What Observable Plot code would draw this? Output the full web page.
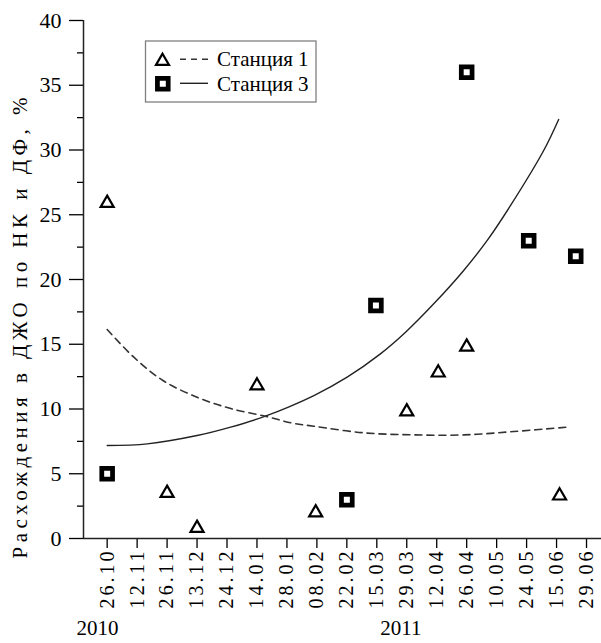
<!DOCTYPE html>
<html>
<head>
<meta charset="utf-8">
<script src="https://cdn.jsdelivr.net/npm/d3@7"></script>
<script src="https://cdn.jsdelivr.net/npm/@observablehq/plot@0.6"></script>
<style>
  html, body { margin: 0; padding: 0; background: white; }
</style>
</head>
<body>
<script>
// ---- Data ----
const xLabels = ["26.10","12.11","26.11","13.12","24.12","14.01","28.01","08.02","22.02","15.03","29.03","12.04","26.04","10.05","24.05","15.06","29.06"];
const years = ["2010", "2011"];
const yearPos = [-0.32, 9.8];
const yMajor = [0, 5, 10, 15, 20, 25, 30, 35, 40];
const yMinor = [2.5, 7.5, 12.5, 17.5, 22.5, 27.5, 32.5, 37.5];

// Станция 1 (triangles)
const st1X = [0, 2, 3, 5, 6.96, 10, 11.05, 12, 15.1];
const st1Y = [25.9, 3.5, 0.8, 11.8, 2.0, 9.8, 12.8, 14.8, 3.3];
// Станция 3 (squares)
const st3X = [0, 8, 8.97, 12, 14.07, 15.64];
const st3Y = [5.0, 3.0, 18.0, 36.0, 23.0, 21.8];

// Trend line Станция 1 (dashed)
const tr1X = [0, 0.89, 1.86, 3.0, 4.1, 5.3, 6.2, 6.9, 8.57, 10.24, 11.9, 13.57, 15.37];
const tr1Y = [16.14, 14.0, 12.2, 10.91, 10.05, 9.43, 8.9, 8.67, 8.16, 8.0, 8.0, 8.26, 8.6];
// Trend line Станция 3 (solid)
const tr3X = [0, 1.34, 3.0, 4.12, 5.28, 6.9, 8.01, 9.12, 9.96, 10.9, 11.9, 12.68, 13.46, 14.57, 15.07];
const tr3Y = [7.18, 7.31, 7.95, 8.6, 9.45, 11.04, 12.46, 14.26, 15.93, 18.12, 20.7, 23.0, 25.7, 29.96, 32.36];

const yTitle = "Расхождения в ДЖО по НК и ДФ, %";
const legendLabels = ["Станция 1", "Станция 3"];

// ---- Build tables ----
const st1 = st1X.map((x, i) => ({x, y: st1Y[i]}));
const st3 = st3X.map((x, i) => ({x, y: st3Y[i]}));
const tr1 = tr1X.map((x, i) => ({x, y: tr1Y[i]}));
const tr3 = tr3X.map((x, i) => ({x, y: tr3Y[i]}));
const yearData = years.map((t, i) => ({t, x: yearPos[i]}));

const xDomain = [-0.79, 16.5];
const triR = 4.83, sqR = 6.07;
const FONT = "'Liberation Serif', 'Times New Roman', serif";

const svg = Plot.plot({
  width: 601,
  height: 643,
  marginLeft: 83,
  marginRight: 0,
  marginTop: 20,
  marginBottom: 105,
  style: {fontFamily: FONT, fontSize: "20px", background: "white", color: "black"},
  x: {domain: xDomain, axis: null},
  y: {domain: [0, 40], axis: null},
  marks: [
    Plot.axisY({ticks: yMajor, tickSize: 14, tickPadding: 8, fontSize: 22, anchor: "left", strokeWidth: 1.3, label: null}),
    Plot.axisY({ticks: yMinor, tickSize: 6, tickFormat: () => "", anchor: "left", strokeWidth: 1.3, label: null}),
    Plot.axisX({ticks: d3.range(xLabels.length), tickFormat: i => xLabels[i], tickRotate: -90,
                tickSize: 10, tickPadding: 3, fontSize: 20, anchor: "bottom", strokeWidth: 1.3, label: null}),
    Plot.ruleY([0], {stroke: "#222", strokeWidth: 1.5}),
    Plot.ruleX([xDomain[0]], {y1: 0, y2: 40, stroke: "#222", strokeWidth: 1.5}),
    Plot.text(yearData, {x: "x", text: "t", frameAnchor: "bottom", dy: 96, fontSize: 21}),
    Plot.text([yTitle], {frameAnchor: "left", dx: -63, dy: 279, rotate: -90, fontSize: 21, textAnchor: "start"}),
    Plot.line(tr3, {x: "x", y: "y", curve: "catmull-rom", stroke: "#222", strokeWidth: 1.4}),
    Plot.line(tr1, {x: "x", y: "y", curve: "catmull-rom", stroke: "#333", strokeWidth: 1.6, strokeDasharray: "7,5"}),
    Plot.dot(st1, {x: "x", y: "y", symbol: "triangle", r: triR, stroke: "black", strokeWidth: 2.2, fill: "white"}),
    Plot.dot(st3, {x: "x", y: "y", symbol: "square", r: sqR, stroke: "black", strokeWidth: 4.75, fill: "white"})
  ]
});

document.body.appendChild(svg);

// stretch rotated texts to match reference lengths
const s = d3.select(svg);
s.selectAll('g[aria-label="x-axis tick label"] text').attr("textLength", 57).attr("lengthAdjust", "spacing");
s.selectAll('g[aria-label="text"] text').filter(function() { return this.textContent === yTitle; })
  .attr("textLength", 461).attr("lengthAdjust", "spacing");

// ---- Legend ----
const lg = s.append("g").attr("font-family", FONT).attr("font-size", 21).attr("text-anchor", "start");
lg.append("rect").attr("x", 145.5).attr("y", 41).attr("width", 170.5).attr("height", 61)
  .attr("fill", "white").attr("stroke", "#808080").attr("stroke-width", 1.3);
lg.append("path").attr("transform", "translate(162.5,61.2)")
  .attr("d", d3.symbol(d3.symbolTriangle, Math.PI * triR * triR)())
  .attr("fill", "white").attr("stroke", "black").attr("stroke-width", 2.2);
lg.append("line").attr("x1", 180).attr("x2", 209).attr("y1", 59.3).attr("y2", 59.3)
  .attr("stroke", "#333").attr("stroke-width", 1.6).attr("stroke-dasharray", "6,5");
lg.append("text").attr("x", 217).attr("y", 66).attr("text-anchor", "start").text(legendLabels[0]);
lg.append("path").attr("transform", "translate(162.8,83.8)")
  .attr("d", d3.symbol(d3.symbolSquare, Math.PI * sqR * sqR)())
  .attr("fill", "white").attr("stroke", "black").attr("stroke-width", 4.75);
lg.append("line").attr("x1", 180).attr("x2", 208).attr("y1", 83.3).attr("y2", 83.3)
  .attr("stroke", "#222").attr("stroke-width", 1.4);
lg.append("text").attr("x", 217).attr("y", 91).attr("text-anchor", "start").text(legendLabels[1]);
</script>
</body>
</html>
